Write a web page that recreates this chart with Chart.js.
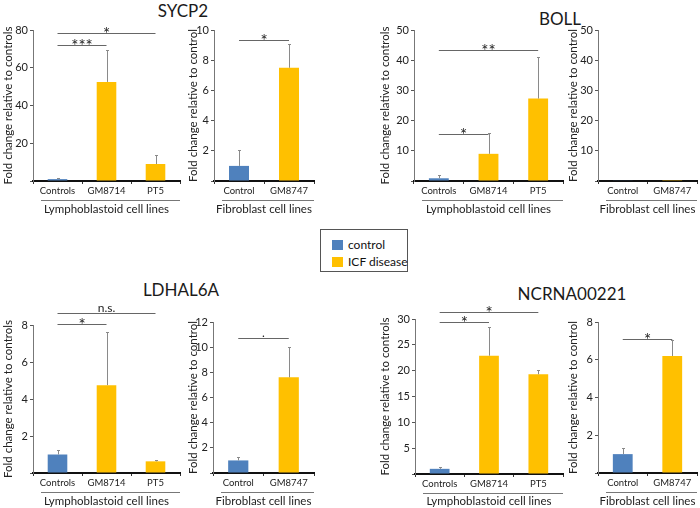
<!DOCTYPE html>
<html>
<head>
    <title>ICF gene expression</title>
    <script src="https://cdn.jsdelivr.net/npm/chart.js"></script>
    <style>
        body { margin: 0; background: #fff; font-family: Lato, sans-serif; }
        #wrap { position: relative; width: 700px; height: 508px; }
        canvas { position: absolute; }
        .ttl { position: absolute; transform: translate(-50%, -50%); font-size: 17px; font-weight: 400; color: #1a1a1a; white-space: nowrap; }
        #legend { position: absolute; left: 320px; top: 229px; width: 86px; height: 41px; border: 1px solid #555; font-size: 12px; color: #111; }
        #legend div { position: absolute; left: 11px; height: 10px; line-height: 10px; white-space: nowrap; }
        #legend span { display: inline-block; width: 11px; height: 10px; vertical-align: top; margin-right: 5px; }
    </style>
</head>
<body>
<div id="wrap">
    <div class="ttl" style="left:183px;top:10px">SYCP2</div>
    <div class="ttl" style="left:560px;top:18px">BOLL</div>
    <div class="ttl" style="left:181px;top:289px">LDHAL6A</div>
    <div class="ttl" style="left:572px;top:293px">NCRNA00221</div>
    <div id="legend">
        <div style="top:10px"><span style="background:#4f81bd"></span>control</div>
        <div style="top:27px"><span style="background:#ffc000"></span>ICF disease</div>
    </div>
    <canvas id="c1" width="185" height="220" style="left:0;top:0"></canvas>
    <canvas id="c2" width="135" height="220" style="left:185px;top:0"></canvas>
    <canvas id="c3" width="188" height="220" style="left:377px;top:0"></canvas>
    <canvas id="c4" width="135" height="220" style="left:565px;top:0"></canvas>
    <canvas id="c5" width="185" height="228" style="left:0;top:280px"></canvas>
    <canvas id="c6" width="135" height="228" style="left:185px;top:280px"></canvas>
    <canvas id="c7" width="188" height="228" style="left:377px;top:280px"></canvas>
    <canvas id="c8" width="135" height="228" style="left:565px;top:280px"></canvas>
</div>
<script>
    // categories
    const lymphoLines = ['Controls', 'GM8714', 'PT5'];
    const fibroLines = ['Control', 'GM8747'];

    // mean fold change and upper error
    const sycp2Lympho = [1.0, 52.5, 9.0];
    const sycp2LymphoErr = [0.8, 17, 4.8];
    const sycp2Fibro = [1.0, 7.5];
    const sycp2FibroErr = [1.05, 1.6];

    const bollLympho = [0.9, 9.0, 27.3];
    const bollLymphoErr = [1.1, 7.0, 13.7];
    const bollFibro = [0.2, 0.05];
    const bollFibroErr = [0, 0];

    const ldhLympho = [1.0, 4.75, 0.63];
    const ldhLymphoErr = [0.25, 2.85, 0.05];
    const ldhFibro = [1.0, 7.6];
    const ldhFibroErr = [0.27, 2.45];

    const ncrLympho = [1.0, 22.9, 19.3];
    const ncrLymphoErr = [0.3, 5.6, 0.8];
    const ncrFibro = [1.0, 6.2];
    const ncrFibroErr = [0.35, 0.85];

    // significance brackets: [from category, to category, height, label]
    const sycp2LymphoSig = [[0, 1, 72, '***'], [0, 2, 78.5, '*']];
    const sycp2FibroSig = [[0, 1, 9.35, '*']];
    const bollLymphoSig = [[0, 1, 15.6, '*'], [0, 2, 43.5, '**']];
    const bollFibroSig = [];
    const ldhLymphoSig = [[0, 1, 8.08, '*'], [0, 2, 8.67, 'n.s.']];
    const ldhFibroSig = [[0, 1, 10.7, '.']];
    const ncrLymphoSig = [[0, 1, 29.4, '*'], [0, 2, 31.4, '*']];
    const ncrFibroSig = [[0, 1, 7.08, '*']];

    const BLUE = '#4f81bd', YELLOW = '#ffc000';
    Chart.defaults.font.family = 'Lato, sans-serif';
    Chart.defaults.color = '#222';

    function panel(id, labels, values, errors, sig, o) {
        const marks = {
            id: 'marks',
            afterDatasetsDraw(chart) {
                const {ctx, chartArea: a, scales: {x, y}} = chart;
                ctx.save();
                ctx.lineWidth = 1;
                ctx.strokeStyle = '#8a8a8a';
                values.forEach((v, i) => {
                    if (!errors[i]) return;
                    const px = Math.round(x.getPixelForValue(i)) + 0.5;
                    const y0 = y.getPixelForValue(v), y1 = Math.round(y.getPixelForValue(v + errors[i])) + 0.5;
                    ctx.beginPath();
                    ctx.moveTo(px, y0); ctx.lineTo(px, y1);
                    ctx.moveTo(px - 1.5, y1); ctx.lineTo(px + 1.5, y1);
                    ctx.stroke();
                });
                ctx.strokeStyle = '#666';
                ctx.fillStyle = '#222';
                ctx.textAlign = 'center';
                sig.forEach(([i0, i1, v, txt]) => {
                    const x0 = x.getPixelForValue(i0), x1 = x.getPixelForValue(i1);
                    const py = Math.round(y.getPixelForValue(v)) + 0.5;
                    ctx.beginPath(); ctx.moveTo(x0, py); ctx.lineTo(x1, py); ctx.stroke();
                    const star = /^\*+$/.test(txt);
                    ctx.font = (star ? '17px' : '12px') + ' Lato, sans-serif';
                    ctx.fillText(txt, (x0 + x1) / 2, star ? py + 6 : py - 2);
                });
                // line over the group label
                const gy = Math.round(a.bottom + 19) + 0.5;
                ctx.strokeStyle = '#777';
                ctx.beginPath(); ctx.moveTo(a.left + 8, gy); ctx.lineTo(a.right, gy); ctx.stroke();
                ctx.restore();
            }
        };

        new Chart(document.getElementById(id), {
            type: 'bar',
            data: {
                labels: labels,
                datasets: [{
                    data: values,
                    backgroundColor: labels.map((l, i) => i === 0 ? BLUE : YELLOW),
                    barPercentage: 0.4,
                    categoryPercentage: 1
                }]
            },
            options: {
                responsive: false,
                animation: false,
                layout: { padding: { left: 0, right: o.pr, top: o.pt, bottom: 0 } },
                plugins: { legend: { display: false }, tooltip: { enabled: false } },
                scales: {
                    x: {
                        grid: { drawOnChartArea: false, tickLength: 3, color: '#333' },
                        border: { color: '#111', width: 2 },
                        ticks: { font: { size: 9.5 }, padding: 1, color: '#222' },
                        title: { display: true, text: o.group, font: { size: 11.5 }, color: '#222',
                                 padding: { top: 0, bottom: Math.max(0, o.xh - 35.6) } },
                        afterFit: s => { s.height = o.xh; }
                    },
                    y: {
                        min: 0,
                        max: o.max,
                        ticks: { stepSize: o.step, font: { size: 11 }, padding: 2, color: '#222',
                                 callback: v => v === 0 ? '' : v },
                        grid: { drawOnChartArea: false, tickLength: 3, color: '#555' },
                        border: { color: '#777' },
                        title: { display: true, text: o.yTitle, font: { size: 11.5 }, color: '#222', padding: 1 },
                        afterFit: s => { s.width = o.yw; }
                    }
                }
            },
            plugins: [marks]
        });
    }

    const toControls = 'Fold change relative to controls';
    const toControl = 'Fold change relative to control';
    const lymphoGroup = 'Lymphoblastoid cell lines';
    const fibroGroup = 'Fibroblast cell lines';

    panel('c1', lymphoLines, sycp2Lympho, sycp2LymphoErr, sycp2LymphoSig,
        { max: 80, step: 20, yTitle: toControls, group: lymphoGroup, yw: 33, pt: 30, pr: 5, xh: 39 });
    panel('c2', fibroLines, sycp2Fibro, sycp2FibroErr, sycp2FibroSig,
        { max: 10, step: 2, yTitle: toControl, group: fibroGroup, yw: 29, pt: 30, pr: 6, xh: 39 });
    panel('c3', lymphoLines, bollLympho, bollLymphoErr, bollLymphoSig,
        { max: 50, step: 10, yTitle: toControls, group: lymphoGroup, yw: 37, pt: 30, pr: 2, xh: 39 });
    panel('c4', fibroLines, bollFibro, bollFibroErr, bollFibroSig,
        { max: 50, step: 10, yTitle: toControl, group: fibroGroup, yw: 33, pt: 30, pr: 3, xh: 39 });
    panel('c5', lymphoLines, ldhLympho, ldhLymphoErr, ldhLymphoSig,
        { max: 8, step: 2, yTitle: toControls, group: lymphoGroup, yw: 33, pt: 45, pr: 5, xh: 35 });
    panel('c6', fibroLines, ldhFibro, ldhFibroErr, ldhFibroSig,
        { max: 12, step: 2, yTitle: toControl, group: fibroGroup, yw: 28, pt: 42, pr: 6, xh: 35 });
    panel('c7', lymphoLines, ncrLympho, ncrLymphoErr, ncrLymphoSig,
        { max: 30, step: 5, yTitle: toControls, group: lymphoGroup, yw: 38, pt: 39, pr: 2, xh: 34 });
    panel('c8', fibroLines, ncrFibro, ncrFibroErr, ncrFibroSig,
        { max: 8, step: 2, yTitle: toControl, group: fibroGroup, yw: 33, pt: 42, pr: 3, xh: 35 });
</script>
</body>
</html>
